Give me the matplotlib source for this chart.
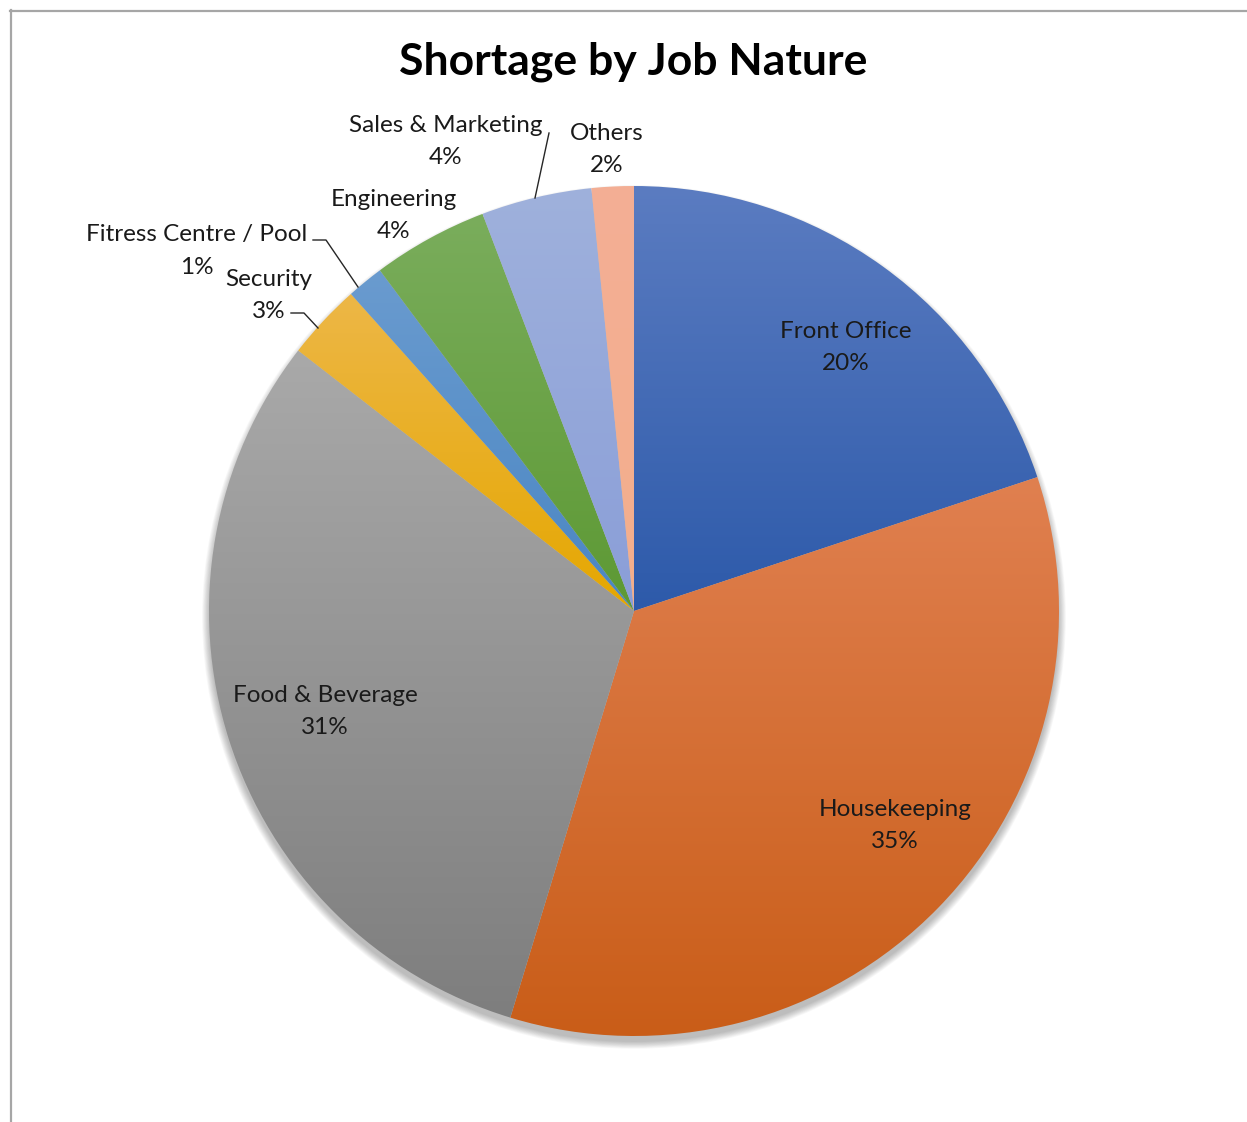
import numpy as np
import matplotlib
matplotlib.use("Agg")
import matplotlib.pyplot as plt
from matplotlib.lines import Line2D
from matplotlib.colors import LinearSegmentedColormap
from matplotlib.patches import Circle

plt.rcParams['font.family'] = ['Lato', 'DejaVu Sans']

# data
jobs = ["Front Office", "Housekeeping", "Food & Beverage", "Security",
        "Fitress Centre / Pool", "Engineering", "Sales & Marketing", "Others"]
shares = [19.9, 34.8, 30.8, 2.9, 1.4, 4.4, 4.2, 1.6]
pct_labels = ["20%", "35%", "31%", "3%", "1%", "4%", "4%", "2%"]

# gradient colours (top, bottom) per slice
top_cols = ["#5B7CC1", "#E08050", "#A9A9A9", "#EDB747", "#6A9BCF", "#7AAD5C", "#9FB1DC", "#F4AF95"]
bot_cols = ["#2D5AAA", "#C95D18", "#7E7E7E", "#E5A700", "#4A86C3", "#5D9934", "#8A9ED8", "#F3AE8C"]

W, H = 1247, 1122
cx, cy, R = 634, 611, 425

def to_data(px, py):
    return (px - cx) / R, (cy - py) / R

fig = plt.figure(figsize=(W / 100, H / 100), dpi=100)
ax = fig.add_axes([(cx - R) / W, (H - cy - R) / H, 2 * R / W, 2 * R / H])
ax.set_xlim(-1, 1)
ax.set_ylim(-1, 1)
ax.axis('off')

# soft shadow under the pie
for i in range(10):
    ax.add_patch(Circle((0, -0.014), 1.0 + 0.0018 * i, facecolor='black',
                        edgecolor='none', alpha=0.028, zorder=0, clip_on=False))

wedges, _ = ax.pie(shares, startangle=90, counterclock=False, radius=1,
                   wedgeprops=dict(facecolor='none', edgecolor='none'))

grad = np.linspace(0, 1, 256).reshape(-1, 1)
inv = ax.transData.inverted()
for w, c1, c2 in zip(wedges, top_cols, bot_cols):
    ext = w.get_window_extent()
    (x0, y0), (x1, y1) = inv.transform([[ext.x0, ext.y0], [ext.x1, ext.y1]])
    cmap = LinearSegmentedColormap.from_list("g", [c1, c2])
    im = ax.imshow(grad, cmap=cmap, extent=[x0, x1, y0, y1], origin='upper',
                   aspect='auto', zorder=2, interpolation='bilinear')
    im.set_clip_path(w)
ax.set_xlim(-1, 1)
ax.set_ylim(-1, 1)

# label layout (pixel centres in reference frame), two lines 32px apart
label_pos = [(846, 345), (895, 822), (325, 709), (269, 292),
             (197, 248), (394, 212), (446, 138), (607, 146)]
for name, p, (px, py) in zip(jobs, pct_labels, label_pos):
    for txt, dy in ((name, -13), (p, 19)):
        x, y = to_data(px, py + dy)
        ax.text(x, y, txt, ha='center', va='center', fontsize=17.5,
                color='#1a1a1a', zorder=5, clip_on=False)

# leader lines
leaders = [
    [(549, 133), (535, 198)],
    [(313, 240), (326, 240), (358, 287)],
    [(291, 313), (304, 313), (318, 328)],
]
for pts in leaders:
    xs, ys = zip(*[to_data(*q) for q in pts])
    ax.add_line(Line2D(xs, ys, color='#262626', lw=1.0, zorder=5, clip_on=False))

fig.text(633 / W, 1 - 62 / H, "Shortage by Job Nature", ha='center', va='center',
         fontsize=32, fontweight='bold', color='black')

# chart frame (only top and left visible)
fig.add_artist(Line2D([10 / W, 1], [1 - 10.5 / H, 1 - 10.5 / H], color='#A6A6A6', lw=1.6))
fig.add_artist(Line2D([10.5 / W, 10.5 / W], [0, 1 - 10 / H], color='#A6A6A6', lw=1.6))

fig.savefig("out.png", dpi=100)
